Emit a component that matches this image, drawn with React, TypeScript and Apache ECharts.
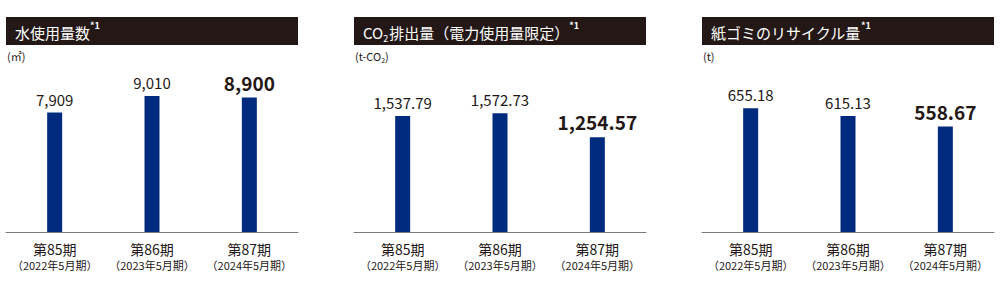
import React, { useEffect, useRef } from "react";
import * as echarts from "echarts";

const categories = ["第85期", "第86期", "第87期"];
const periods = ["（2022年5月期）", "（2023年5月期）", "（2024年5月期）"];
const water = [7909, 9010, 8900];
const co2 = [1537.79, 1572.73, 1254.57];
const paper = [655.18, 615.13, 558.67];
const yMax = [10000, 2000, 800];
const decimals = [0, 2, 2];

const FONT = "'Noto Sans CJK JP', 'Noto Sans', sans-serif";
const DARK = "#231815";
const NAVY = "#002a7e";

export default function App() {
  const ref = useRef<HTMLDivElement>(null);
  useEffect(() => {
    if (!ref.current) return;
    const chart = echarts.init(ref.current, undefined, { renderer: "svg" });
    const lefts = [6, 354, 702];
    const W = 292;
    const seriesData = [water, co2, paper];

    const titleTexts = [
      "{m|水使用量数}{sup|*1}",
      "{m|CO}{sub|2}{m|排出量（電力使用量限定）}{sup|*1}",
      "{m|紙ゴミのリサイクル量}{sup|*1}",
    ];
    const unitTexts = ["{u|(㎡)}", "{u|(t-CO}{us|2}{u|)}", "{u|(t)}"];

    const titles: any[] = [];
    lefts.forEach((l, i) => {
      titles.push({
        left: l + 9,
        top: 21,
        padding: 0,
        z: 10,
        text: titleTexts[i],
        textStyle: {
          fontWeight: "normal",
          fontFamily: FONT,
          rich: {
            m: { fontSize: 15, lineHeight: 22, color: "#ffffff", fontFamily: FONT, fontWeight: "normal" },
            sup: { fontSize: 9, lineHeight: 16, color: "#ffffff", fontFamily: FONT, fontWeight: "bold", verticalAlign: "top" },
            sub: { fontSize: 9, lineHeight: 10, color: "#ffffff", fontFamily: FONT, fontWeight: "normal", verticalAlign: "bottom", padding: [0, 1, 0, 0] },
          },
        },
      });
      titles.push({
        left: l + 1,
        top: 49,
        padding: 0,
        z: 10,
        text: unitTexts[i],
        textStyle: {
          fontWeight: "normal",
          fontFamily: FONT,
          rich: {
            u: { fontSize: 11, lineHeight: 14, color: DARK, fontFamily: FONT, fontWeight: "normal" },
            us: { fontSize: 7, lineHeight: 9, color: DARK, fontFamily: FONT, fontWeight: "normal", verticalAlign: "bottom" },
          },
        },
      });
    });

    const fmt = (v: number, d: number) =>
      v.toLocaleString("en-US", { minimumFractionDigits: d, maximumFractionDigits: d });

    chart.setOption({
      animation: false,
      title: titles,
      graphic: lefts.map((l) => ({
        type: "rect",
        z: 0,
        shape: { x: l, y: 17, width: W, height: 28 },
        style: { fill: DARK },
      })),
      grid: lefts.map((l) => ({ left: l, top: 81, width: W, height: 151 })),
      xAxis: lefts.map((_, i) => ({
        type: "category",
        gridIndex: i,
        data: categories,
        axisTick: { show: false },
        axisLine: { show: true, lineStyle: { color: "#7a7a7a", width: 1 } },
        axisLabel: {
          margin: 9,
          interval: 0,
          formatter: (v: string, idx: number) => `{a|${v}}\n{b|${periods[idx]}}`,
          rich: {
            a: { fontSize: 14, lineHeight: 16, color: DARK, fontFamily: FONT },
            b: { fontSize: 11, lineHeight: 16, color: DARK, fontFamily: FONT },
          },
        },
      })),
      yAxis: lefts.map((_, i) => ({
        type: "value",
        gridIndex: i,
        min: 0,
        max: yMax[i],
        show: false,
        splitLine: { show: false },
      })),
      series: seriesData.map((arr, i) => ({
        type: "bar",
        xAxisIndex: i,
        yAxisIndex: i,
        barWidth: 15,
        itemStyle: { color: NAVY },
        label: {
          show: true,
          position: "top",
          distance: 6,
          fontSize: 15,
          color: DARK,
          fontFamily: FONT,
          formatter: (p: any) => fmt(p.value, decimals[i]),
        },
        data: arr.map((v, j) =>
          j === arr.length - 1
            ? { value: v, label: { fontSize: 19, fontWeight: "bold" } }
            : v
        ),
      })),
    });
    return () => chart.dispose();
  }, []);

  return (
    <div style={{ position: "fixed", left: 0, top: 0, width: 1000, height: 282, background: "#fff" }}>
      <div ref={ref} style={{ width: 1000, height: 282 }} />
    </div>
  );
}
